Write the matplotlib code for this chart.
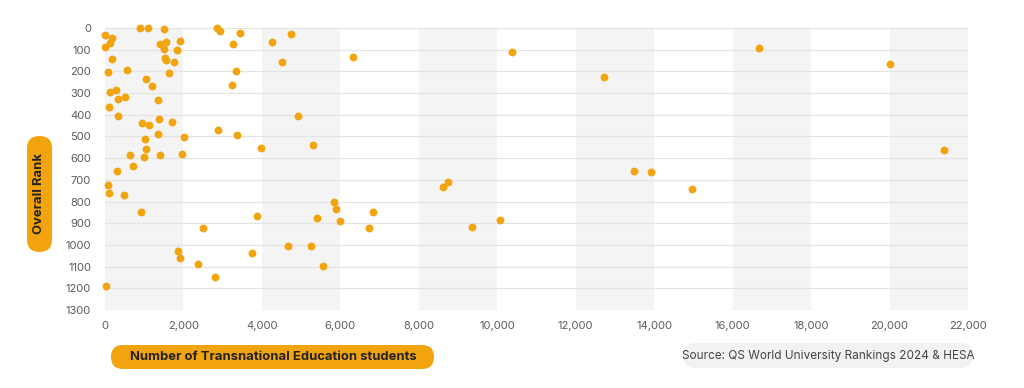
import matplotlib.pyplot as plt
from matplotlib.patches import FancyBboxPatch
import numpy as np

plt.rcParams['font.family'] = ['Inter', 'DejaVu Sans']

# students (x) and overall rank (y)
tne_students = [892, 1096, 1504, 2863, 2940, 3450, 4741, 8, 186, 127, 8, 1394, 1563, 1903,
                1512, 1835, 3263, 4265, 6322, 186, 1520, 1546, 1759, 4520, 3332, 68, 561,
                1640, 1037, 1190, 3237, 127, 272, 340, 510, 1342, 102, 323, 4909, 1367,
                1708, 935, 1112, 2872, 3373, 1342, 2014, 1020, 1045, 5311, 3977, 629, 1402,
                1954, 983, 714, 306, 68, 110, 493, 5829, 926, 5888, 3883, 5412, 5990, 2489,
                1861, 1920, 3747, 4656, 5259, 5557, 2362, 2813, 17, 6840, 6738, 8605, 8749,
                9362, 10058, 10375, 12727, 13492, 13918, 16683, 20010, 21394, 14954]
overall_rank = [1, 1, 3, 2, 12, 22, 29, 34, 45, 68, 86, 72, 66, 58,
                95, 101, 75, 66, 135, 144, 137, 147, 158, 158, 198, 201, 192,
                207, 235, 267, 263, 297, 284, 327, 318, 332, 364, 404, 404, 420,
                432, 436, 449, 472, 492, 489, 501, 513, 558, 538, 552, 586, 584,
                581, 596, 638, 659, 722, 761, 772, 804, 847, 833, 868, 877, 890, 924,
                1030, 1062, 1036, 1005, 1005, 1097, 1090, 1146, 1190, 847, 924, 731, 708,
                917, 884, 112, 226, 659, 665, 91, 164, 561, 742]

x_ticks = list(range(0, 22001, 2000))
y_ticks = list(range(0, 1301, 100))

orange = '#F2A40F'

fig = plt.figure(figsize=(10.24, 3.88), dpi=100)
ax = fig.add_axes([105/1024, 1-310/388, 863/1024, 282/388])

# alternating vertical bands
for i in range(0, len(x_ticks)-1, 2):
    ax.axvspan(x_ticks[i], x_ticks[i+1], color='#F4F4F4', zorder=0, lw=0)
for y in y_ticks:
    ax.axhline(y, color='#E4E4E4', lw=0.9, zorder=1)

ax.scatter(tne_students, overall_rank, s=32, color=orange, zorder=3, linewidths=0, clip_on=False)

ax.set_xlim(0, 22000)
ax.set_ylim(1300, 0)
ax.set_xticks(x_ticks)
ax.set_xticklabels([f'{v:,}' for v in x_ticks])
ax.set_yticks(y_ticks)
ax.tick_params(length=0, labelsize=8, labelcolor='#5a5a5a')
ax.tick_params(axis='x', pad=8)
ax.tick_params(axis='y', pad=10)
for s in ax.spines.values():
    s.set_visible(False)

# overlay in pixel coords for the pill labels
ov = fig.add_axes([0, 0, 1, 1], zorder=-1)
ov.set_xlim(0, 1024)
ov.set_ylim(388, 0)
ov.axis('off')

def pill(x0, y0, w, h, fc):
    r = min(w, h) / 2
    ov.add_patch(FancyBboxPatch((x0 + r, y0 + r), w - 2*r, h - 2*r,
                                boxstyle=f'round,pad={r}', fc=fc, ec='none'))

pill(111, 345, 323, 24, orange)
ov.text(273, 357, 'Number of Transnational Education students', ha='center', va='center',
        fontsize=9.4, fontweight='bold', color='#222222')

pill(27, 136, 25, 116, orange)
ov.text(39.5, 194, 'Overall Rank', ha='center', va='center', rotation=90,
        fontsize=9.4, fontweight='bold', color='#222222')

pill(683, 343, 290, 25, '#F2F2F2')
ov.text(828, 356, 'Source: QS World University Rankings 2024 & HESA', ha='center', va='center',
        fontsize=8.5, color='#444444')

fig.savefig('out.png', dpi=100)
